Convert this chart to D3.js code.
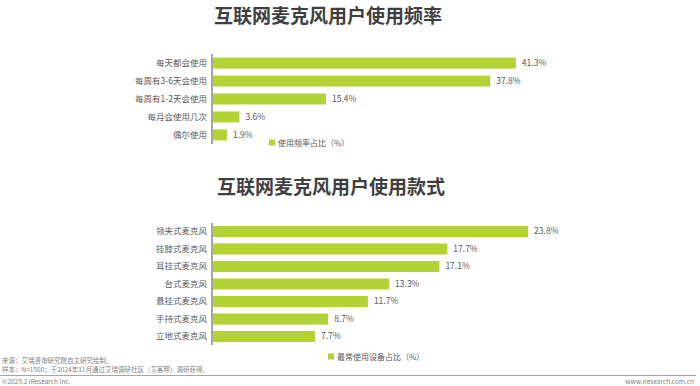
<!DOCTYPE html>
<html lang="zh">
<head>
<meta charset="UTF-8">
<title>互联网麦克风用户使用</title>
<style>
  body{margin:0;background:#fff;}
  svg{display:block;font-family:"Noto Sans CJK SC","Microsoft YaHei",sans-serif;}
</style>
</head>
<body>
<svg width="700" height="386"></svg>
<script src="https://d3js.org/d3.v7.min.js"></script>
<script>
// 使用频率
var freqCats = ["每天都会使用","每周有3-6天会使用","每周有1-2天会使用","每月会使用几次","偶尔使用"];
var freqVals = [41.3, 37.8, 15.4, 3.6, 1.9];
// 使用款式
var styleCats = ["领夹式麦克风","挂脖式麦克风","耳挂式麦克风","台式麦克风","悬挂式麦克风","手持式麦克风","立地式麦克风"];
var styleVals = [23.8, 17.7, 17.1, 13.3, 11.7, 8.7, 7.7];

var titles = ["互联网麦克风用户使用频率","互联网麦克风用户使用款式"];
var legends = ["使用频率占比（%）","最常使用设备占比（%）"];
var notes = ["来源：艾瑞咨询研究院自主研究绘制。","样本：N=1500；于2024年11月通过艾瑞调研社区（艾客帮）调研获得。"];

var green = "#b3d335", txt = "#595959";
var svg = d3.select("svg");
var x0 = 212;

function drawChart(cats, vals, opt){
  var x = d3.scaleLinear().domain([0, opt.max]).range([x0 + 1, x0 + 1 + opt.w]);
  var y = d3.scaleBand().domain(cats).range(opt.yr).paddingInner(opt.pi).paddingOuter(opt.po);

  svg.append("text").attr("x", opt.tx).attr("y", opt.ty).attr("text-anchor","middle")
    .attr("font-size", 19).attr("font-weight","bold").attr("fill","#3f3f3f").text(opt.title);

  var g = svg.append("g");
  g.selectAll("rect").data(vals).enter().append("rect")
    .attr("x", x(0)).attr("y", function(d,i){return y(cats[i]);})
    .attr("width", function(d){return x(d) - x(0);}).attr("height", y.bandwidth())
    .attr("fill", green);

  var ax = g.append("g").attr("transform","translate(" + x0 + ",0)")
    .call(d3.axisLeft(y).tickSize(0).tickPadding(5));
  ax.select(".domain").attr("stroke","#a6a6a6").attr("stroke-width",2)
    .attr("d","M0," + opt.yr[0] + "V" + opt.yr[1]);
  ax.selectAll("text").attr("font-size",8.5).attr("fill",txt)
    .attr("font-family","'Noto Sans CJK SC',sans-serif");

  g.selectAll(".val").data(vals).enter().append("text")
    .attr("x", function(d){return x(d) + 6;})
    .attr("y", function(d,i){return y(cats[i]) + y.bandwidth()/2;})
    .attr("dy","0.35em").attr("font-size",8.5).attr("fill",txt)
    .text(function(d){return d.toFixed(1) + "%";});

  svg.append("rect").attr("x", opt.lx).attr("y", opt.ly - 3.5).attr("width",6).attr("height",6).attr("fill",green);
  svg.append("text").attr("x", opt.lx + 9).attr("y", opt.ly).attr("dy","0.35em")
    .attr("font-size",8).attr("fill",txt).text(opt.legend);
}

drawChart(freqCats, freqVals, {max:45, w:330, yr:[54,144], pi:0.39, po:0.2,
  title:titles[0], tx:328, ty:23, legend:legends[0], lx:269, ly:143});
drawChart(styleCats, styleVals, {max:25, w:331, yr:[223,345], pi:0.37, po:0.17,
  title:titles[1], tx:331, ty:194, legend:legends[1], lx:328, ly:357});

// 底部注释
svg.selectAll(".note").data(notes).enter().append("text")
  .attr("x",2).attr("y",function(d,i){return 363 + i*9;})
  .attr("font-size",6.5).attr("fill","#7f7f7f").text(function(d){return d;});
svg.append("line").attr("x1",0).attr("x2",696).attr("y1",375.5).attr("y2",375.5)
  .attr("stroke","#a6a6a6").attr("stroke-width",1);
svg.append("text").attr("x",2).attr("y",384).attr("font-size",6.5).attr("fill","#7f7f7f").text("©2025.2 iResearch Inc.");
svg.append("text").attr("x",694).attr("y",384).attr("text-anchor","end").attr("font-size",6.5).attr("fill","#7f7f7f").text("www.iresearch.com.cn");
</script>
</body>
</html>
